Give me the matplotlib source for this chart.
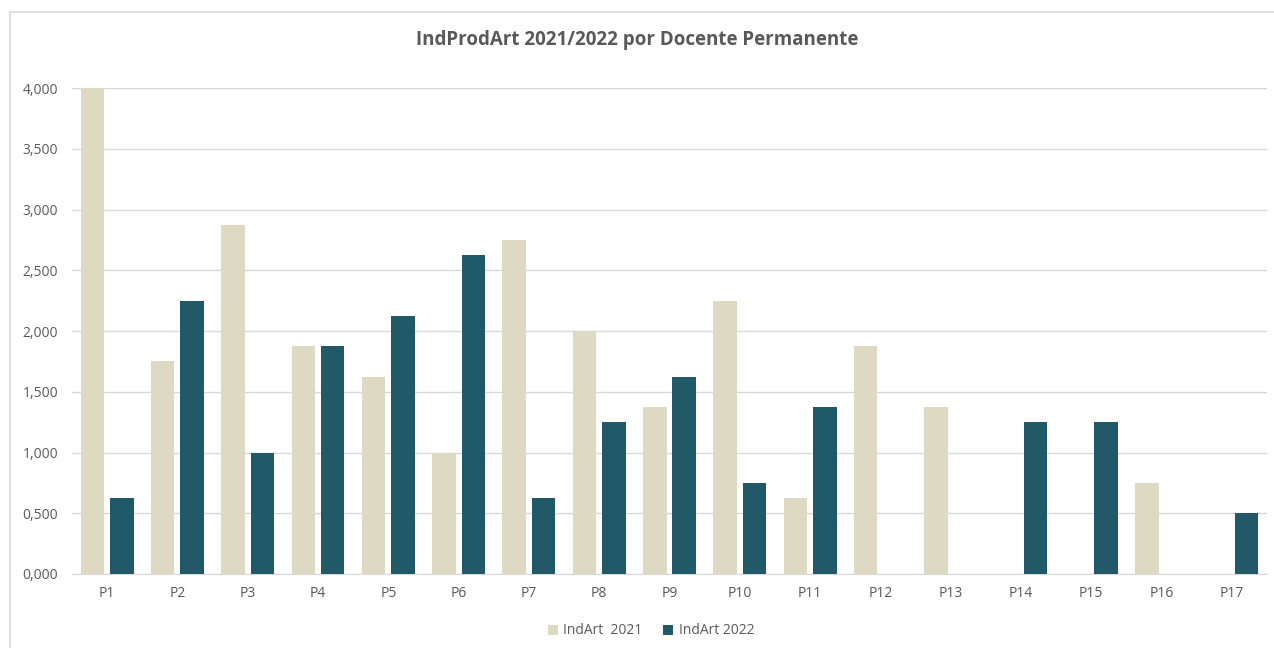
import matplotlib.pyplot as plt
import numpy as np
from matplotlib.patches import Rectangle
from matplotlib.ticker import FuncFormatter

plt.rcParams['font.family'] = ['Open Sans', 'DejaVu Sans']

categorias = ['P1', 'P2', 'P3', 'P4', 'P5', 'P6', 'P7', 'P8', 'P9', 'P10',
              'P11', 'P12', 'P13', 'P14', 'P15', 'P16', 'P17']
ind_2021 = [4.0, 1.75, 2.875, 1.875, 1.625, 1.0, 2.75, 2.0, 1.375, 2.25,
            0.625, 1.875, 1.375, 0, 0, 0.75, 0]
ind_2022 = [0.625, 2.25, 1.0, 1.875, 2.125, 2.625, 0.625, 1.25, 1.625, 0.75,
            1.375, 0, 0, 1.25, 1.25, 0, 0.5]

c21 = '#DDD9C3'
c22 = '#215968'
gris = '#595959'

fig = plt.figure(figsize=(12.74, 6.48), dpi=100)
# marco del grafico
fig.patches.append(Rectangle((10 / 1274, -0.01), 1.02, 1 - 12 / 648 + 0.01,
                             transform=fig.transFigure, fill=False,
                             edgecolor='#D9D9D9', linewidth=1.2))
ax = fig.add_axes([72 / 1274, 0.1142, 1195 / 1274, 0.7498])

x = np.arange(len(categorias))
w = 0.334
gap = 0.085
ax.bar(x - w / 2 - gap / 2, ind_2021, w, color=c21, label='IndArt  2021', zorder=3)
ax.bar(x + w / 2 + gap / 2, ind_2022, w, color=c22, label='IndArt 2022', zorder=3)

ax.set_xlim(-0.5, len(categorias) - 0.5)
ax.set_ylim(0, 4.0)
ax.set_yticks(np.arange(0, 4.01, 0.5))
ax.yaxis.set_major_formatter(FuncFormatter(lambda v, p: f'{v:,.3f}'.replace('.', ',')))
ax.set_xticks(x)
ax.set_xticklabels(categorias)
ax.grid(axis='y', color='#D9D9D9', linewidth=1, zorder=0)
for s in ['top', 'right', 'left']:
    ax.spines[s].set_visible(False)
ax.spines['bottom'].set_color('#D9D9D9')
ax.tick_params(axis='both', length=0, colors=gris, labelsize=10)
ax.tick_params(axis='x', pad=9)
ax.tick_params(axis='y', pad=10)

fig.text(0.5, 1 - 40 / 648, 'IndProdArt 2021/2022 por Docente Permanente',
         ha='center', va='center', fontsize=13.5, fontweight='bold', color=gris)

fig.legend(loc='center', bbox_to_anchor=(0.511, 1 - 631 / 648), ncol=2, frameon=False,
           fontsize=10, labelcolor=gris, handlelength=0.7, handleheight=0.7,
           handletextpad=0.4, columnspacing=1.5)

fig.savefig('out.png', dpi=100)
